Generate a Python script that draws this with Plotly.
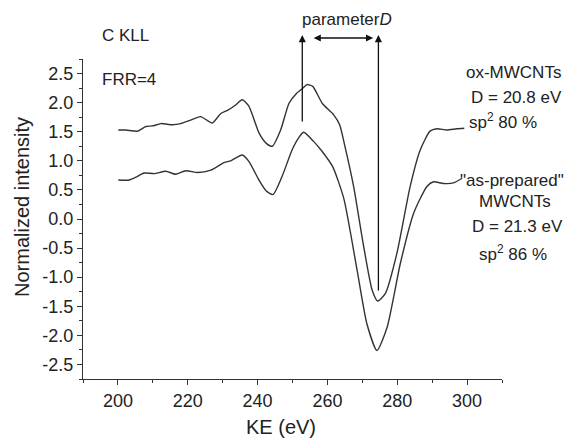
import plotly.graph_objects as go

# ---- data ----
ke_ox = [200.1, 202.3, 205.6, 208.0, 209.9, 212.3, 215.6, 218.0, 220.4, 223.7,
         227.0, 229.4, 231.5, 233.5, 235.6, 237.5, 240.4, 242.5, 244.2, 246.6,
         249.0, 251.0, 252.8, 254.2, 255.8, 258.5, 261.8, 263.5, 265.2, 267.5,
         270.4, 272.8, 274.4, 276.6, 279.9, 283.7, 286.6, 289.4, 291.3, 294.2,
         297.0, 299.2]
int_ox = [1.53, 1.53, 1.51, 1.59, 1.60, 1.64, 1.62, 1.64, 1.69, 1.76,
          1.65, 1.81, 1.87, 1.95, 2.05, 1.94, 1.48, 1.30, 1.25, 1.53,
          1.99, 2.15, 2.24, 2.31, 2.28, 1.99, 1.79, 1.62, 1.20, 0.56,
          -0.48, -1.22, -1.41, -1.28, -0.59, 0.56, 1.19, 1.51, 1.55, 1.53,
          1.55, 1.56]

ke_ap = [200.1, 203.2, 205.5, 207.5, 210.4, 213.7, 216.6, 219.4, 222.8, 226.6,
         230.4, 232.3, 235.6, 237.5, 240.4, 242.5, 244.4, 247.0, 249.9, 251.8,
         253.2, 256.1, 258.5, 261.5, 264.7, 268.5, 271.3, 274.2, 277.1, 280.9,
         284.7, 288.5, 290.4, 293.2, 296.1, 298.6]
int_ap = [0.67, 0.67, 0.73, 0.79, 0.78, 0.82, 0.77, 0.83, 0.80, 0.84,
          0.97, 1.00, 1.10, 0.99, 0.67, 0.48, 0.42, 0.73, 1.19, 1.40,
          1.49, 1.33, 1.16, 0.90, 0.35, -0.88, -1.80, -2.26, -1.86, -0.76,
          0.10, 0.56, 0.64, 0.61, 0.62, 0.70]

y_tickvals = [-2.5, -2.0, -1.5, -1.0, -0.5, 0.0, 0.5, 1.0, 1.5, 2.0, 2.5]
y_ticktext = ["-2.5", "-2.0", "-1.5", "-1.0", "-0.5", "0.0", "0.5", "1.0", "1.5", "2.0", "2.5"]
x_tickvals = [200, 220, 240, 260, 280, 300]

FONT = "Liberation Sans, Arial, sans-serif"
TXT = "#222222"
LINE = "#333333"

fig = go.Figure()
fig.add_trace(go.Scatter(x=ke_ox, y=int_ox, mode="lines", name="ox-MWCNTs",
                         line=dict(color=LINE, width=1.4, shape="spline", smoothing=0.6)))
fig.add_trace(go.Scatter(x=ke_ap, y=int_ap, mode="lines", name="as-prepared MWCNTs",
                         line=dict(color=LINE, width=1.4, shape="spline", smoothing=0.6)))

fig.update_layout(
    width=575, height=439,
    margin=dict(l=83, r=73, t=59, b=60),
    paper_bgcolor="white", plot_bgcolor="white",
    showlegend=False,
    font=dict(family=FONT, size=17, color=TXT),
    xaxis=dict(range=[190, 310], tickvals=x_tickvals, ticks="outside", ticklen=5,
               tickwidth=1.2, tickcolor=LINE, showline=True, linecolor=LINE, linewidth=1.2,
               showgrid=False, zeroline=False,
               minor=dict(ticks="outside", ticklen=3, dtick=10, tick0=190, tickcolor=LINE, showgrid=False),
               tickfont=dict(size=18, family=FONT, color=TXT)),
    yaxis=dict(range=[-2.75, 2.75], tickvals=y_tickvals, ticktext=y_ticktext,
               ticks="outside", ticklen=5, tickwidth=1.2, tickcolor=LINE,
               showline=True, linecolor=LINE, linewidth=1.2,
               showgrid=False, zeroline=False,
               minor=dict(ticks="outside", ticklen=3, dtick=0.25, tick0=-2.75, tickcolor=LINE, showgrid=False),
               tickfont=dict(size=18, family=FONT, color=TXT)),
)

ann = []
# axis titles
ann.append(dict(text="KE (eV)", xref="paper", yref="paper", x=(280.5 - 83) / 419, y=-(427 - 379) / 320,
                showarrow=False, xanchor="center", yanchor="middle", font=dict(size=20)))
ann.append(dict(text="Normalized intensity", xref="paper", yref="paper", x=-(83 - 22) / 419,
                y=(379 - 207) / 320, textangle=-90, showarrow=False,
                xanchor="center", yanchor="middle", font=dict(size=20)))
# left labels
ann.append(dict(text="C KLL", xref="paper", yref="paper", x=(100 - 83) / 419, y=(379 - 35) / 320,
                showarrow=False, xanchor="left", yanchor="middle"))
ann.append(dict(text="FRR=4", xref="paper", yref="paper", x=(100 - 83) / 419, y=(379 - 79) / 320,
                showarrow=False, xanchor="left", yanchor="middle"))
# right labels
right_labels = [
    ("ox-MWCNTs", 513, 73),
    ("D = 20.8 eV", 516, 97),
    ("sp<sup>2</sup> 80 %", 503, 121),
    ("\"as-prepared\"", 512, 180),
    ("MWCNTs", 515, 201),
    ("D = 21.3 eV", 517, 226),
    ("sp<sup>2</sup> 86 %", 513, 253),
]
for t, px, py in right_labels:
    ann.append(dict(text=t, xref="paper", yref="paper", x=(px - 83) / 419, y=(379 - py) / 320,
                    showarrow=False, xanchor="center", yanchor="middle", font=dict(size=17)))
# parameter D
ann.append(dict(text="parameter<i>D</i>", xref="paper", yref="paper", x=(347 - 83) / 419,
                y=(379 - 19) / 320, showarrow=False, xanchor="center", yanchor="middle",
                font=dict(size=17)))
# arrows
arrow_style = dict(showarrow=True, arrowhead=2, arrowsize=1.1, arrowwidth=1.3,
                   arrowcolor="#111111", text="", standoff=0, startstandoff=0)
ann.append(dict(xref="x", yref="paper", x=252.8, y=(379 - 35) / 320, ax=0, ay=88, **arrow_style))
ann.append(dict(xref="x", yref="paper", x=274.6, y=(379 - 35) / 320, ax=0, ay=257, **arrow_style))
ann.append(dict(xref="x", yref="paper", x=273.1, y=(379 - 38) / 320, ax=-61, ay=0,
                arrowside="end+start", startarrowhead=2, startarrowsize=1.1, **arrow_style))
fig.update_layout(annotations=ann)

fig.write_html("out.html", config={"displayModeBar": False},
               post_script="document.body.style.margin='0px';")
